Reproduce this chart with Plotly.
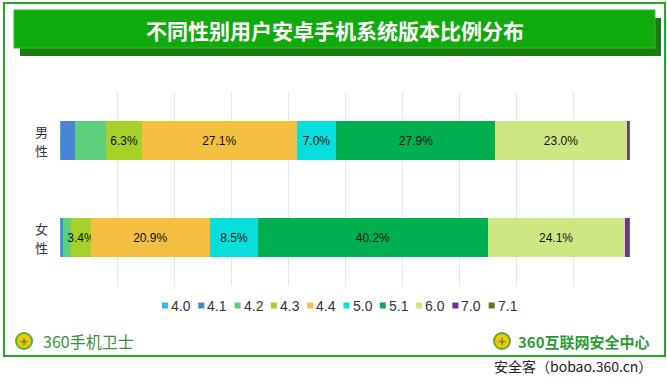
import plotly.graph_objects as go

# ---------------- data ----------------
categories = ["男性", "女性"]
versions = ["4.0", "4.1", "4.2", "4.3", "4.4", "5.0", "5.1", "6.0", "7.0", "7.1"]
male = [0.2, 2.5, 5.4, 6.3, 27.1, 7.0, 27.9, 23.0, 0.5, 0.1]
female = [0.1, 0.4, 1.5, 3.4, 20.9, 8.5, 40.2, 24.1, 0.8, 0.1]
colors = ["#35B6F0", "#4A84D4", "#5ECF7A", "#A6D12A", "#F5BF42",
          "#08DEDB", "#00B050", "#CFE782", "#7030A0", "#5D7A1F"]
labeled = ["4.3", "4.4", "5.0", "5.1", "6.0"]
title_text = "不同性别用户安卓手机系统版本比例分布"
logo_left = "360手机卫士"
logo_right = "360互联网安全中心"
credit = "安全客（bobao.360.cn）"

W, H = 667, 385
ML, MR, MT, MB = 60, 37, 92, 99
PW, PH = W - ML - MR, H - MT - MB


def px(x):
    return (x - ML) / PW


def py(y):
    return (H - MB - y) / PH


CJK = "Noto Sans CJK SC"

fig = go.Figure()
for i, v in enumerate(versions):
    vals = [male[i], female[i]]
    show = v in labeled
    fig.add_trace(go.Bar(
        name=v, orientation="h", y=categories, x=vals,
        marker=dict(color=colors[i], line=dict(width=0)),
        text=[f"{a:.1f}%" for a in vals] if show else None,
        textposition="inside" if show else "none",
        insidetextanchor="middle", textangle=0, constraintext="none",
        textfont=dict(family="Liberation Sans, Arial", size=12, color="#111111"),
        showlegend=False, hoverinfo="x+name",
    ))

shapes = []
annotations = []
# outer frame
shapes.append(dict(type="rect", xref="paper", yref="paper", x0=px(4), x1=px(665), y0=py(3), y1=py(356),
                   line=dict(color="#22AA22", width=2), fillcolor="rgba(0,0,0,0)", layer="below"))
# title banner shadow and banner
shapes.append(dict(type="rect", xref="paper", yref="paper", x0=px(20), x1=px(661), y0=py(18), y1=py(56),
                   line=dict(width=0), fillcolor="#1B7A14", layer="above"))
shapes.append(dict(type="rect", xref="paper", yref="paper", x0=px(14), x1=px(655), y0=py(10), y1=py(48),
                   line=dict(color="#36BB30", width=1), fillcolor="#10AA0C", layer="above"))
annotations.append(dict(xref="paper", yref="paper", x=px(335), y=py(29.5), text=f"<b>{title_text}</b>",
                        showarrow=False, xanchor="center", yanchor="middle",
                        font=dict(family=CJK, size=21, color="white")))

# category labels (vertical, one character per line)
for c in categories:
    for k, ch in enumerate(c):
        annotations.append(dict(xref="paper", yref="y", x=px(41), y=c, yshift=9.5 - 19 * k, text=ch,
                                showarrow=False, xanchor="center", yanchor="middle",
                                font=dict(family=CJK, size=13, color="#333333")))

# manual legend
for i, v in enumerate(versions):
    cx = 165 + i * 36.3
    cy = 305.5
    shapes.append(dict(type="rect", xref="paper", yref="paper", x0=px(cx - 3), x1=px(cx + 3),
                       y0=py(cy + 3), y1=py(cy - 3), line=dict(width=0), fillcolor=colors[i]))
    annotations.append(dict(xref="paper", yref="paper", x=px(cx + 4), y=py(cy), text=v, showarrow=False,
                            xanchor="left", yanchor="middle",
                            font=dict(family="Liberation Sans, Arial", size=14, color="#333333")))

# footer logos
for cx in (24, 502):
    shapes.append(dict(type="circle", xref="paper", yref="paper", x0=px(cx - 8), x1=px(cx + 8),
                       y0=py(341 + 8), y1=py(341 - 8), line=dict(color="#5AAE2E", width=2), fillcolor="#F2C40C"))
    annotations.append(dict(xref="paper", yref="paper", x=px(cx), y=py(341), text="<b>+</b>", showarrow=False,
                            xanchor="center", yanchor="middle",
                            font=dict(family="Liberation Sans", size=13, color="#3E9A2A")))
annotations.append(dict(xref="paper", yref="paper", x=px(41), y=py(341), text=logo_left, showarrow=False,
                        xanchor="left", yanchor="middle", font=dict(family=CJK, size=16, color="#3C8F3A")))
annotations.append(dict(xref="paper", yref="paper", x=px(516), y=py(341), text=f"<b>{logo_right}</b>",
                        showarrow=False, xanchor="left", yanchor="middle",
                        font=dict(family=CJK, size=15, color="#2E9A36")))
annotations.append(dict(xref="paper", yref="paper", x=px(654), y=py(366), text=credit, showarrow=False,
                        xanchor="right", yanchor="middle", font=dict(family=CJK, size=14, color="#222222")))

fig.update_layout(
    width=W, height=H, autosize=False,
    margin=dict(l=ML, r=MR, t=MT, b=MB, pad=0),
    barmode="stack", bargap=0.598,
    paper_bgcolor="white", plot_bgcolor="white",
    showlegend=False,
    shapes=shapes, annotations=annotations,
    xaxis=dict(range=[0, 100], dtick=10, showgrid=True, gridcolor="#E6E6E6", gridwidth=1,
               zeroline=False, showticklabels=False, showline=False, ticks="", fixedrange=True),
    yaxis=dict(categoryorder="array", categoryarray=categories, autorange="reversed",
               showticklabels=False, ticks="",
               showgrid=False, zeroline=False, showline=False, fixedrange=True),
    font=dict(family=CJK),
)

fig.write_html("out.html", config={"displayModeBar": False},
               post_script="document.body.style.margin='0';document.body.style.padding='0';")
